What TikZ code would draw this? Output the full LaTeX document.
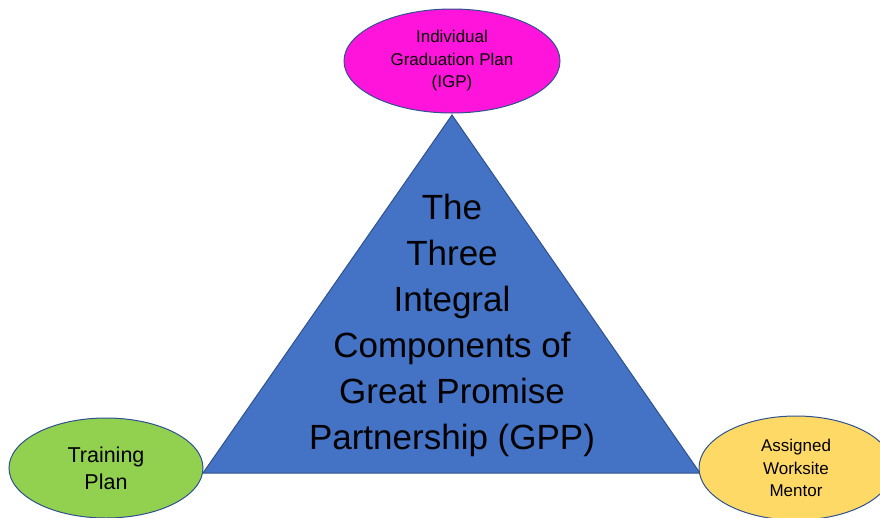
\documentclass[tikz,border=0pt]{standalone}
\usepackage{fontspec}
\setmainfont{Liberation Sans}
\usetikzlibrary{shapes.geometric, positioning}
\definecolor{gppblue}{RGB}{68,114,196}
\definecolor{edgeblue}{RGB}{47,82,143}
\definecolor{igpmagenta}{RGB}{255,20,220}
\definecolor{trgreen}{RGB}{146,208,80}
\definecolor{mentoryellow}{RGB}{255,217,102}

\begin{document}
\begin{tikzpicture}[x=1pt, y=-1pt,
    comp/.style={ellipse, draw=edgeblue, line width=1pt, align=center, inner sep=0pt}]
    \useasboundingbox (0,0) rectangle (880,517);
    \coordinate (apex) at (452,115);
    \coordinate (bl) at (203,473);
    \coordinate (br) at (700,473);
    \draw[fill=gppblue, draw=edgeblue, line width=1pt, line join=miter] (apex) -- (bl) -- (br) -- cycle;

    \node[align=center, font=\fontsize{35}{46}\selectfont] (gpp) at (452,325)
        {The\\Three\\Integral\\Components of\\Great Promise\\Partnership (GPP)};

    \node[comp, fill=igpmagenta, minimum width=216, minimum height=104,
        font=\fontsize{17}{22.5}\selectfont] (igp) at (452,61)
        {Individual\\Graduation Plan\\(IGP)};
    \node[comp, fill=trgreen, minimum width=194, minimum height=100,
        font=\fontsize{21.5}{27}\selectfont] (train) at (106,468)
        {Training\\Plan};
    \node[comp, fill=mentoryellow, minimum width=194, minimum height=104,
        font=\fontsize{17}{22.5}\selectfont] (mentor) at (796,468)
        {Assigned\\Worksite\\Mentor};
\end{tikzpicture}
\end{document}
